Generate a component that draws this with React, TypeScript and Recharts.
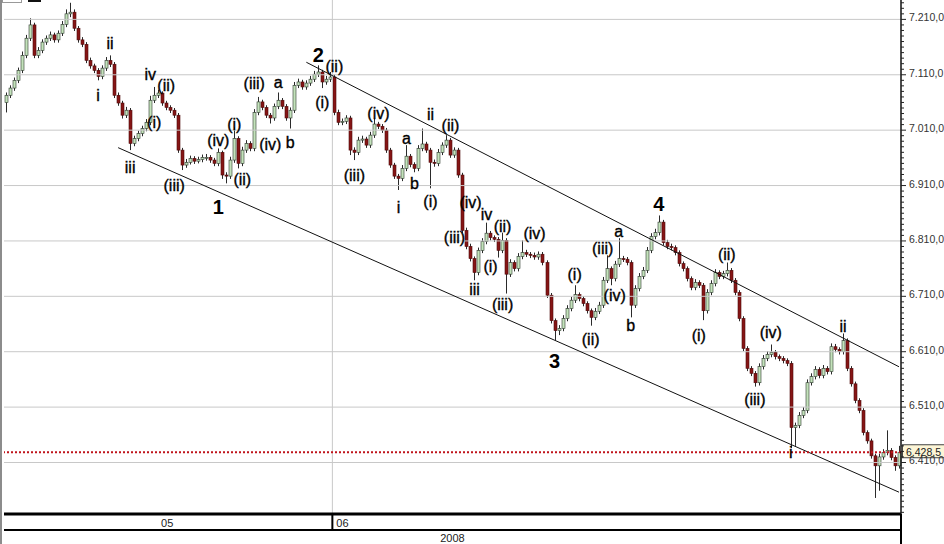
import { ComposedChart, Bar, XAxis, YAxis, ReferenceLine, ReferenceDot } from "recharts";

// hourly-ish candles, May-June 2008
const opens = [
  7060, 7073, 7086, 7100, 7118, 7145, 7176, 7200, 7145, 7154,
  7169, 7176, 7182, 7173, 7185, 7201, 7220, 7223, 7194, 7173,
  7165, 7136, 7126, 7118, 7107, 7122, 7136, 7129, 7073, 7059,
  7037, 7046, 6986, 6995, 7004, 7013, 7024, 7064, 7073, 7077,
  7059, 7051, 7046, 7037, 6974, 6947, 6952, 6959, 6954, 6957,
  6961, 6961, 6956, 6950, 6970, 6929, 6927, 6956, 6995, 6950,
  6974, 6986, 6977, 7042, 7061, 7051, 7037, 7032, 7053, 7064,
  7053, 7032, 7046, 7091, 7097, 7088, 7095, 7102, 7111, 7115,
  7097, 7102, 7106, 7042, 7024, 7026, 7032, 6974, 6970, 6992,
  6994, 6983, 7001, 7021, 7017, 7010, 6974, 6947, 6927, 6923,
  6941, 6963, 6948, 6941, 6977, 6985, 6974, 6952, 6950, 6970,
  6983, 6992, 6965, 6974, 6929, 6829, 6800, 6778, 6753, 6793,
  6809, 6824, 6816, 6813, 6793, 6811, 6750, 6771, 6760, 6782,
  6789, 6786, 6784, 6781, 6786, 6771, 6712, 6666, 6648, 6652,
  6670, 6688, 6703, 6713, 6706, 6697, 6684, 6672, 6683, 6694,
  6739, 6760, 6742, 6768, 6778, 6777, 6771, 6694, 6724, 6746,
  6757, 6793, 6818, 6825, 6844, 6807, 6800, 6798, 6789, 6769,
  6760, 6742, 6726, 6735, 6730, 6684, 6717, 6733, 6753, 6746,
  6751, 6757, 6739, 6717, 6670, 6616, 6580, 6571, 6554, 6583,
  6598, 6605, 6609, 6601, 6598, 6594, 6589, 6473, 6477, 6495,
  6504, 6554, 6565, 6578, 6567, 6580, 6574, 6619, 6614, 6610,
  6630, 6580, 6552, 6522, 6504, 6464, 6449, 6422, 6404, 6420,
  6428, 6432, 6419, 6404,
];
const highs = [
  7078, 7091, 7105, 7123, 7152, 7182, 7212, 7204, 7160, 7174,
  7181, 7188, 7186, 7190, 7207, 7228, 7240, 7228, 7198, 7178,
  7169, 7141, 7130, 7122, 7127, 7142, 7145, 7133, 7078, 7063,
  7052, 7050, 7000, 7009, 7018, 7030, 7072, 7088, 7083, 7080,
  7063, 7055, 7050, 7041, 6978, 6958, 6964, 6963, 6962, 6966,
  6967, 6965, 6960, 6977, 6973, 6934, 6962, 7015, 6999, 6980,
  6992, 6990, 7048, 7070, 7065, 7055, 7041, 7058, 7078, 7068,
  7057, 7051, 7097, 7103, 7101, 7100, 7108, 7117, 7127, 7119,
  7108, 7115, 7110, 7047, 7031, 7037, 7036, 6979, 6998, 7000,
  6998, 7007, 7031, 7025, 7021, 7014, 6978, 6951, 6931, 6947,
  6983, 6967, 6952, 6983, 7013, 6989, 6978, 6957, 6976, 6988,
  7001, 6996, 6979, 6978, 6933, 6834, 6805, 6782, 6798, 6815,
  6843, 6828, 6820, 6817, 6825, 6815, 6777, 6775, 6788, 6811,
  6794, 6790, 6789, 6791, 6790, 6775, 6716, 6670, 6658, 6676,
  6694, 6709, 6730, 6717, 6710, 6701, 6688, 6689, 6700, 6745,
  6784, 6764, 6774, 6815, 6783, 6781, 6775, 6730, 6752, 6763,
  6799, 6824, 6832, 6856, 6848, 6812, 6805, 6802, 6793, 6773,
  6764, 6746, 6741, 6739, 6734, 6723, 6739, 6759, 6757, 6756,
  6771, 6761, 6743, 6721, 6674, 6620, 6584, 6575, 6589, 6604,
  6611, 6623, 6613, 6605, 6602, 6598, 6593, 6482, 6501, 6510,
  6560, 6571, 6584, 6582, 6586, 6584, 6625, 6624, 6618, 6643,
  6634, 6584, 6556, 6526, 6508, 6468, 6453, 6426, 6426, 6434,
  6468, 6436, 6423, 6440,
];
const lows = [
  7042, 7068, 7081, 7095, 7113, 7140, 7171, 7140, 7140, 7149,
  7164, 7171, 7168, 7168, 7180, 7196, 7214, 7189, 7168, 7160,
  7131, 7121, 7113, 7100, 7102, 7117, 7124, 7068, 7054, 7031,
  7032, 6974, 6981, 6990, 6999, 7008, 7019, 7059, 7068, 7054,
  7046, 7041, 7032, 6969, 6938, 6942, 6948, 6949, 6950, 6952,
  6955, 6951, 6945, 6945, 6922, 6914, 6922, 6951, 6941, 6945,
  6969, 6972, 6972, 7037, 7046, 7032, 7022, 7027, 7048, 7048,
  7027, 7013, 7041, 7086, 7083, 7083, 7090, 7097, 7106, 7086,
  7092, 7097, 7037, 7019, 7019, 7021, 6965, 6956, 6965, 6987,
  6978, 6978, 6996, 7012, 7005, 6969, 6942, 6922, 6902, 6918,
  6936, 6943, 6934, 6936, 6972, 6969, 6905, 6944, 6945, 6965,
  6978, 6960, 6960, 6924, 6824, 6795, 6773, 6739, 6748, 6788,
  6804, 6811, 6808, 6780, 6788, 6715, 6745, 6755, 6755, 6777,
  6781, 6779, 6776, 6776, 6766, 6707, 6661, 6630, 6640, 6647,
  6665, 6683, 6698, 6701, 6692, 6679, 6657, 6667, 6678, 6689,
  6734, 6730, 6737, 6763, 6772, 6766, 6672, 6689, 6719, 6741,
  6752, 6788, 6813, 6820, 6802, 6795, 6793, 6784, 6764, 6755,
  6737, 6721, 6721, 6725, 6667, 6679, 6712, 6728, 6741, 6741,
  6746, 6734, 6712, 6665, 6611, 6575, 6566, 6547, 6549, 6578,
  6593, 6600, 6596, 6593, 6589, 6584, 6436, 6440, 6472, 6490,
  6499, 6549, 6560, 6562, 6562, 6569, 6569, 6609, 6605, 6605,
  6575, 6547, 6517, 6499, 6459, 6444, 6417, 6346, 6359, 6415,
  6423, 6414, 6395, 6399,
];
const closes = [
  7073, 7086, 7100, 7118, 7145, 7176, 7200, 7145, 7154, 7169,
  7176, 7182, 7173, 7185, 7201, 7220, 7223, 7194, 7173, 7165,
  7136, 7126, 7118, 7107, 7122, 7136, 7129, 7073, 7059, 7037,
  7046, 6986, 6995, 7004, 7013, 7024, 7064, 7073, 7077, 7059,
  7051, 7046, 7037, 6974, 6947, 6952, 6959, 6954, 6957, 6961,
  6961, 6956, 6950, 6970, 6929, 6927, 6956, 6995, 6950, 6974,
  6986, 6977, 7042, 7061, 7051, 7037, 7032, 7053, 7064, 7053,
  7032, 7046, 7091, 7097, 7088, 7095, 7102, 7111, 7115, 7097,
  7102, 7106, 7042, 7024, 7026, 7032, 6974, 6970, 6992, 6994,
  6983, 7001, 7021, 7017, 7010, 6974, 6947, 6927, 6923, 6941,
  6963, 6948, 6941, 6977, 6985, 6974, 6952, 6950, 6970, 6983,
  6992, 6965, 6974, 6929, 6829, 6800, 6778, 6753, 6793, 6809,
  6824, 6816, 6813, 6793, 6811, 6750, 6771, 6760, 6782, 6789,
  6786, 6784, 6781, 6786, 6771, 6712, 6666, 6648, 6652, 6670,
  6688, 6703, 6713, 6706, 6697, 6684, 6672, 6683, 6694, 6739,
  6760, 6742, 6768, 6778, 6777, 6771, 6694, 6724, 6746, 6757,
  6793, 6818, 6825, 6844, 6807, 6800, 6798, 6789, 6769, 6760,
  6742, 6726, 6735, 6730, 6684, 6717, 6733, 6753, 6746, 6751,
  6757, 6739, 6717, 6670, 6616, 6580, 6571, 6554, 6583, 6598,
  6605, 6609, 6601, 6598, 6594, 6589, 6473, 6477, 6495, 6504,
  6554, 6565, 6578, 6567, 6580, 6574, 6619, 6614, 6610, 6630,
  6580, 6552, 6522, 6504, 6464, 6449, 6422, 6404, 6420, 6428,
  6432, 6419, 6404, 6428.5,
];

// elliott wave labels: text, candle index, price level
const waveText = ["ii", "i", "iv", "(ii)", "(i)", "iii", "(iii)", "1", "(iv)", "(i)", "(ii)", "(iii)", "a", "(iv)", "b", "2", "(ii)", "(i)", "(iv)", "(iii)", "a", "b", "i", "ii", "(ii)", "(i)", "(iv)", "iv", "(ii)", "(iii)", "(i)", "iii", "(iii)", "(iv)", "3", "(i)", "(ii)", "(iii)", "a", "(iv)", "b", "4", "(ii)", "(i)", "(iv)", "(iii)", "ii", "i"];
const waveIdx = [26, 23, 36, 40, 37, 31, 42, 53, 53, 57, 59, 62, 68, 66, 71, 78, 82, 79, 93, 87, 100, 102, 98, 106, 111, 106, 116, 120, 124, 112, 121, 117, 124, 132, 137, 142, 146, 149, 153, 152, 156, 163, 180, 173, 191, 187, 209, 196];
const wavePrice = [7167, 7073, 7111, 7091, 7024, 6943, 6910, 6872, 6992, 7021, 6921, 7095, 7097, 6985, 6988, 7145, 7126, 7061, 7041, 6929, 6995, 6914, 6871, 7039, 7019, 6882, 6880, 6858, 6836, 6816, 6764, 6722, 6695, 6824, 6594, 6749, 6632, 6797, 6827, 6712, 6657, 6876, 6786, 6639, 6645, 6524, 6655, 6429];

const majorTicks = [6410, 6510, 6610, 6710, 6810, 6910, 7010, 7110, 7210];
const monthLabels = ["05", "06"];
const monthTickIndex = [40, 82];
const yearLabel = "2008";
const lastPrice = 6428.5;

const upperChannel = [{ x: 75, y: 7132.6 }, { x: 223, y: 6582.8 }];
const lowerChannel = [{ x: 28, y: 6978.4 }, { x: 223, y: 6356.4 }];

const minorTicks: number[] = [];
for (let v = 6320; v <= 7240; v += 10) minorTicks.push(v);

const data = closes.map((c, i) => ({ i, o: opens[i], h: highs[i], l: lows[i], c }));

const FONT = "'Liberation Sans', Arial, sans-serif";

function fmt(v: number, d: number) {
  const [a, b] = v.toFixed(d).split(".");
  return a.replace(/\B(?=(\d{3})+(?!\d))/g, ".") + "," + b;
}

function Candle(props: any) {
  const { x, y, width, height, payload } = props;
  if (!payload || height == null) return null;
  const { o, h, l, c } = payload;
  const top = Math.min(y, y + height);
  const k = Math.abs(height) / (h - l);
  const cx = Math.round(x + width / 2) + 0.5;
  const bTop = top + (h - Math.max(o, c)) * k;
  const bH = Math.max(1, (Math.max(o, c) - Math.min(o, c)) * k);
  const up = c >= o;
  return (
    <g>
      <line x1={cx} x2={cx} y1={top} y2={top + Math.abs(height)} stroke="#2a2a2a" strokeWidth={1} />
      <rect
        x={cx - 1.5}
        y={bTop}
        width={3}
        height={bH}
        fill={up ? "#c3e2bb" : "#861515"}
        stroke={up ? "#2e3a2e" : "#4e0a0a"}
        strokeWidth={0.6}
      />
    </g>
  );
}

function YTick({ x, y, payload }: any) {
  const v = payload.value;
  const major = majorTicks.includes(v);
  return (
    <g>
      <line x1={x} x2={x + (major ? 5 : 3)} y1={y} y2={y} stroke="#222" />
      {major && (
        <text x={x + 8} y={y} dy={2} fontSize={10.5} fill="#333" fontFamily={FONT}>
          {fmt(v, 1)}
        </text>
      )}
    </g>
  );
}

function XTick({ x, y, payload }: any) {
  const k = monthTickIndex.indexOf(payload.value);
  if (k === 0) {
    return (
      <text x={x + 1} y={y + 13} textAnchor="middle" fontSize={11} fill="#222" fontFamily={FONT}>
        {monthLabels[0]}
      </text>
    );
  }
  return (
    <g>
      <line x1={x - 2} x2={x - 2} y1={y} y2={y + 16} stroke="#000" strokeWidth={2} />
      <text x={x + 2} y={y + 13} fontSize={11} fill="#222" fontFamily={FONT}>
        {monthLabels[k]}
      </text>
    </g>
  );
}

function PriceTag(p: any) {
  const vb = p.viewBox;
  const xr = vb.x + vb.width;
  return (
    <g>
      <rect x={xr + 1.5} y={vb.y - 7.5} width={44} height={13} fill="#fcf5d6" stroke="#444" />
      <text x={xr + 5} y={vb.y + 3.5} fontSize={10.5} fill="#222" fontFamily={FONT}>
        {fmt(lastPrice, 1)}
      </text>
    </g>
  );
}

export default function App() {
  return (
    <div
      style={{
        position: "absolute",
        left: 0,
        top: 0,
        width: 944,
        height: 544,
        overflow: "hidden",
        background: "#fff",
        fontFamily: FONT,
      }}
    >
      <ComposedChart width={944} height={544} data={data} margin={{ top: 0, right: 0, bottom: 0, left: 4 }}>
        <XAxis
          dataKey="i"
          type="category"
          ticks={monthTickIndex}
          interval={0}
          tick={<XTick />}
          tickLine={false}
          tickSize={0}
          tickMargin={0}
          height={30}
          axisLine={{ stroke: "#000", strokeWidth: 3 }}
          label={{ value: yearLabel, position: "insideBottom", offset: 2, fontSize: 11, fill: "#222" }}
        />
        <YAxis
          orientation="right"
          width={43}
          type="number"
          domain={[6317, 7245]}
          allowDataOverflow
          ticks={minorTicks}
          interval={0}
          tick={<YTick />}
          tickLine={false}
          tickSize={0}
          tickMargin={0}
          axisLine={{ stroke: "#111", strokeWidth: 1.5 }}
        />
        {majorTicks.map((v) => (
          <ReferenceLine key={"g" + v} y={v} stroke="#c8c8c8" strokeWidth={1} />
        ))}
        <ReferenceLine x={monthTickIndex[1]} position="start" stroke="#c8c8c8" strokeWidth={1} />
        <Bar dataKey={(d: any) => [d.l, d.h]} shape={(p: any) => <Candle {...p} />} isAnimationActive={false} />
        <ReferenceLine segment={upperChannel} stroke="#111" strokeWidth={1} />
        <ReferenceLine segment={lowerChannel} stroke="#111" strokeWidth={1} />
        <ReferenceLine
          y={lastPrice}
          stroke="#c0151c"
          strokeWidth={2}
          strokeDasharray="2 2"
          label={(p: any) => <PriceTag {...p} />}
        />
        {waveText.map((t, k) => {
          const big = /^\d$/.test(t);
          return (
            <ReferenceDot
              key={"w" + k}
              x={waveIdx[k]}
              y={wavePrice[k]}
              r={1}
              fill="none"
              stroke="none"
              label={{
                value: t,
                position: "center",
                fill: "#000",
                stroke: "#000",
                strokeWidth: big ? 0 : 0.35,
                fontSize: big ? 20 : 16,
                fontWeight: big ? "bold" : "normal",
                fontFamily: FONT,
              }}
            />
          );
        })}
      </ComposedChart>
      <div style={{ position: "absolute", left: 4, top: 529, width: 897, height: 2, background: "#000" }} />
      <div style={{ position: "absolute", left: 900, top: 514, width: 2, height: 30, background: "#000" }} />
      <div style={{ position: "absolute", left: 0, top: 0, width: 2, height: 544, background: "#8c8c8c" }} />
      <div style={{ position: "absolute", left: 2, top: 0, width: 18, height: 2, border: "1px solid #999", borderTop: "none" }} />
      <div style={{ position: "absolute", left: 28, top: 0, width: 13, height: 2, background: "#111" }} />
    </div>
  );
}
